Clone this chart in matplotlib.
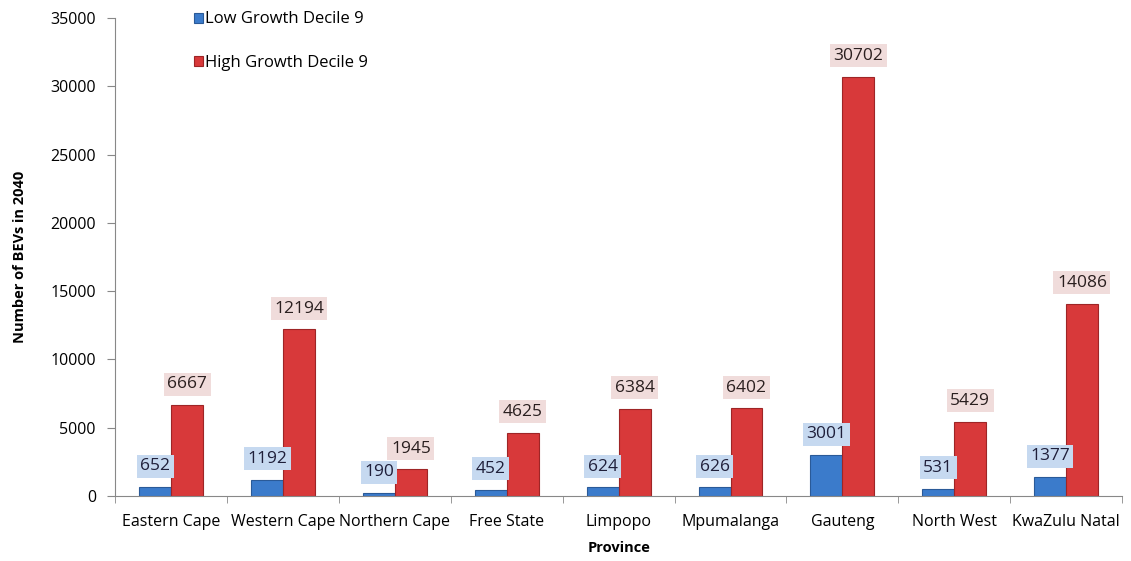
import numpy as np
import matplotlib.pyplot as plt

provinces = ['Eastern Cape', 'Western Cape', 'Northern Cape', 'Free State', 'Limpopo',
             'Mpumalanga', 'Gauteng', 'North West', 'KwaZulu Natal']
low_growth = [652, 1192, 190, 452, 624, 626, 3001, 531, 1377]
high_growth = [6667, 12194, 1945, 4625, 6384, 6402, 30702, 5429, 14086]

plt.rcParams['font.family'] = ['Open Sans', 'DejaVu Sans']

fig = plt.figure(figsize=(11.31, 5.61), dpi=100)
ax = fig.add_axes([0.102, 0.116, 0.89, 0.852])

x = np.arange(len(provinces))
w = 0.285
b1 = ax.bar(x - w/2, low_growth, w, color='#3b7bcb', edgecolor='#2a5a98', linewidth=0.8,
            label='Low Growth Decile 9')
b2 = ax.bar(x + w/2, high_growth, w, color='#d8393a', edgecolor='#9e2526', linewidth=0.8,
            label='High Growth Decile 9')

for xi, v in zip(x, low_growth):
    ax.annotate(str(v), (xi - w/2, v), xytext=(0, 15), textcoords='offset points',
                ha='center', va='center', fontsize=12.5, color='#1f1f3a',
                bbox=dict(boxstyle='square,pad=0.2', fc='#c6d9f0', ec='none'))
for xi, v in zip(x, high_growth):
    ax.annotate(str(v), (xi + w/2, v), xytext=(0, 15), textcoords='offset points',
                ha='center', va='center', fontsize=12.5, color='#2a1f1f',
                bbox=dict(boxstyle='square,pad=0.2', fc='#f0dcdb', ec='none'))

ax.set_xlim(-0.5, len(provinces) - 0.5)
ax.set_ylim(0, 35000)
ax.set_yticks(np.arange(0, 35001, 5000))
ax.set_xticks(x)
ax.set_xticklabels(provinces, fontsize=11.5)
ax.set_xticks(np.arange(-0.5, len(provinces), 1), minor=True)
ax.tick_params(axis='x', which='major', length=0, pad=13)
ax.tick_params(axis='x', which='minor', length=5, color='#888888')
ax.tick_params(axis='y', length=6, color='#888888', labelsize=11.5, pad=8)

for s in ['top', 'right']:
    ax.spines[s].set_visible(False)
for s in ['left', 'bottom']:
    ax.spines[s].set_color('#888888')

ax.set_xlabel('Province', fontsize=10.5, fontweight='bold', labelpad=8)
ax.set_ylabel('Number of BEVs in 2040', fontsize=10.5, fontweight='bold', labelpad=17)

ax.legend(loc='upper left', bbox_to_anchor=(0.063, 1.045), frameon=False, fontsize=12,
          labelspacing=1.65, handlelength=0.55, handleheight=0.55, handletextpad=0.15)

fig.savefig('out.png', dpi=100)
